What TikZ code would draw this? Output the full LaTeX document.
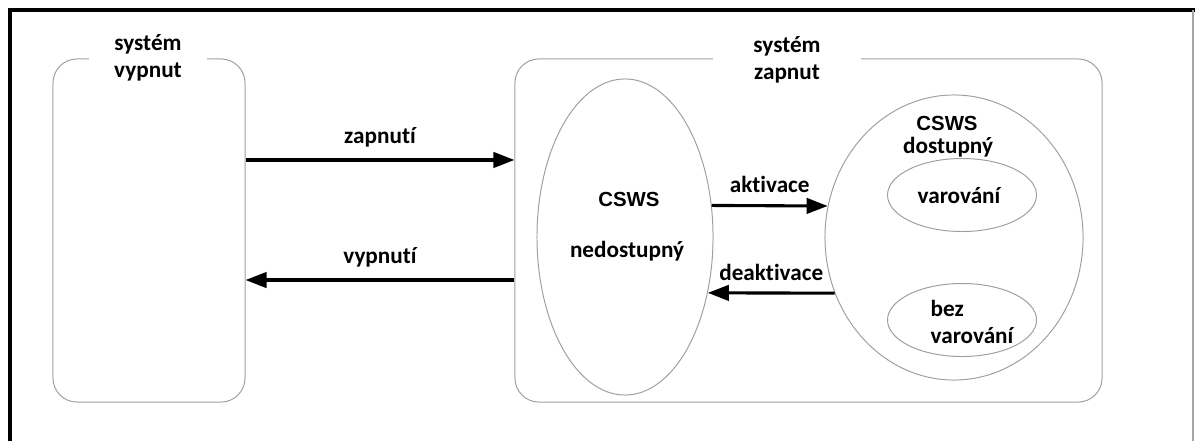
\documentclass[tikz,border=0pt]{standalone}
\usepackage{fontspec}
\setmainfont{Carlito}[Ligatures=NoCommon]
\newfontfamily\arialfont{Liberation Sans}
\usetikzlibrary{positioning, calc, arrows.meta, shapes.geometric}

\begin{document}
\begin{tikzpicture}[x=0.025cm, y=-0.025cm,
    statebox/.style={draw=gray!75, line width=0.7pt, rounded corners=0.6cm, inner sep=0pt},
    stateell/.style={ellipse, draw=gray!75, line width=0.7pt, inner sep=0pt},
    lbl/.style={font=\fontsize{16.5}{19}\selectfont\bfseries, align=center, inner sep=0pt},
    cs/.style={font=\fontsize{14.5}{16}\selectfont\bfseries\arialfont, inner sep=0pt},
    trans/.style={line width=2.2pt, -{Triangle[length=15pt, width=11pt]}}]
    \useasboundingbox (0,0) rectangle (1195,441);
    % frame
    \draw[line width=3pt] (10,441) -- (10,10) -- (1195,10);
    \draw[gray!70, line width=0.8pt] (1193,10) -- (1193,441);
    % states
    \node[statebox, minimum width=4.8cm, minimum height=8.575cm] (off) at (149,230.5) {};
    \node[statebox, minimum width=14.675cm, minimum height=8.575cm] (on) at (808.5,230.5) {};
    \node[lbl, fill=white, minimum width=2.925cm, minimum height=1.2cm] (offlbl) at (148,58) {systém\\vypnut};
    \node[lbl, fill=white, minimum width=3.675cm, minimum height=1.2cm] (onlbl) at (787,60) {systém\\zapnut};
    \node[stateell, minimum width=4.4cm, minimum height=7.9cm] (nedost) at (625,237) {};
    \node[stateell, minimum width=6.45cm, minimum height=7.125cm] (dost) at (954,237.5) {};
    \node[stateell, minimum width=3.725cm, minimum height=1.825cm] (warn) at (962,195) {};
    \node[stateell, minimum width=3.725cm, minimum height=1.825cm] (nowarn) at (962,320) {};
    % texts
    \node[cs] (cs1) at (629,199) {CSWS};
    \node[lbl] (nedostlbl) at (627,251) {nedostupný};
    \node[cs] (cs2) at (947,123) {CSWS};
    \node[lbl] (dostlbl) at (948,147) {dostupný};
    \node[lbl] (warnlbl) at (959,196) {varování};
    \node[lbl, align=left] (nowarnlbl) at (972,322) {bez\\varování};
    % transitions
    \draw[trans] ([yshift=1.7625cm]off.east) -- ([yshift=1.7625cm]on.west)
        node[lbl, midway, above=8pt] (zap) {zapnutí};
    \draw[trans] ([yshift=-1.2375cm]on.west) -- ([yshift=-1.2375cm]off.east)
        node[lbl, midway, above=8pt] (vyp) {vypnutí};
    \draw[trans] (nedost.20) -- (dost.166)
        node[lbl, midway, above=8pt] (akt) {aktivace};
    \draw[trans] (dost.205) -- (nedost.-34)
        node[lbl, midway, above=8pt] (deakt) {deaktivace};
\end{tikzpicture}
\end{document}
